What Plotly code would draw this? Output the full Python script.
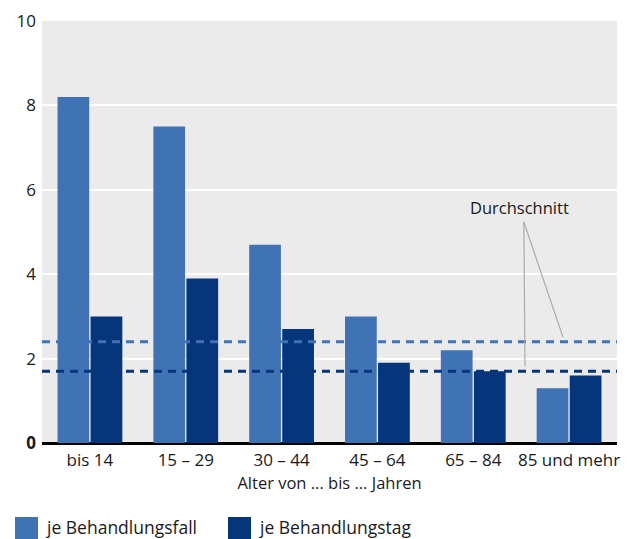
import plotly.graph_objects as go

# Age groups and values per series
age_groups = ["bis 14", "15 – 29", "30 – 44", "45 – 64", "65 – 84", "85 und mehr"]
je_fall = [8.2, 7.5, 4.7, 3.0, 2.2, 1.3]
je_tag = [3.0, 3.9, 2.7, 1.9, 1.7, 1.6]
avg_fall = 2.4
avg_tag = 1.7
series_names = ["je Behandlungsfall", "je Behandlungstag"]
y_ticks = [0, 2, 4, 6, 8, 10]

LIGHT = "#4073b6"
DARK = "#05357b"
FONT = "Open Sans, sans-serif"
TXT = "#1a1a1a"

fig = go.Figure()
fig.add_trace(go.Bar(x=age_groups, y=je_fall, name=series_names[0],
                     marker=dict(color=LIGHT, line=dict(width=0))))
fig.add_trace(go.Bar(x=age_groups, y=je_tag, name=series_names[1],
                     marker=dict(color=DARK, line=dict(width=0))))

# Average lines across the full plot width
for val, col in [(avg_fall, LIGHT), (avg_tag, DARK)]:
    fig.add_shape(type="line", xref="paper", yref="y", x0=0, x1=1, y0=val, y1=val,
                  line=dict(color=col, width=3, dash="8px,6px"), layer="above")

# Callout for the averages
fig.add_annotation(text="Durchschnitt", xref="paper", yref="y", x=0.831, y=5.57,
                   xanchor="center", yanchor="middle",
                   showarrow=False, font=dict(family=FONT, size=16.5, color=TXT))
fig.add_shape(type="line", xref="paper", yref="y", x0=0.838, x1=0.840, y0=5.24, y1=1.82,
              line=dict(color="#aaaaaa", width=1.2))
fig.add_shape(type="line", xref="paper", yref="y", x0=0.838, x1=0.906, y0=5.24, y1=2.51,
              line=dict(color="#aaaaaa", width=1.2))

# Legend drawn as squares plus labels below the axis title
legend_items = [(series_names[0], LIGHT, 15), (series_names[1], DARK, 228)]
for name, col, px in legend_items:
    x0 = (px - 42) / 575
    x1 = (px + 23 - 42) / 575
    fig.add_shape(type="rect", xref="paper", yref="paper", x0=x0, x1=x1,
                  y0=-(517 - 443) / 422, y1=-(540 - 443) / 422,
                  fillcolor=col, line=dict(width=0))
    fig.add_annotation(text=name, xref="paper", yref="paper",
                       x=(px + 29 - 42) / 575, y=-(527 - 443) / 422,
                       xanchor="left", yanchor="middle", showarrow=False,
                       font=dict(family=FONT, size=17.5, color=TXT))

fig.update_layout(
    width=630, height=539,
    margin=dict(l=42, r=13, t=21, b=96),
    plot_bgcolor="#ebebeb", paper_bgcolor="white",
    barmode="group", bargap=0.31, bargroupgap=0.04,
    showlegend=False,
    font=dict(family=FONT, size=17, color=TXT),
)
fig.update_xaxes(showgrid=False, ticks="", tickfont=dict(size=17, color=TXT),
                 ticklabelstandoff=5, automargin=False,
                 title=dict(text="Alter von ... bis ... Jahren", standoff=6,
                            font=dict(size=16.5, color=TXT)))
fig.update_yaxes(range=[0, 10], tickvals=y_ticks, automargin=False,
                 ticktext=["<b>0</b>"] + [str(v) for v in y_ticks[1:]],
                 showgrid=True, gridcolor="white", gridwidth=2,
                 zeroline=True, zerolinecolor="black", zerolinewidth=3,
                 tickfont=dict(size=17, color=TXT), ticklabelstandoff=5)

fig.write_html("out.html")
